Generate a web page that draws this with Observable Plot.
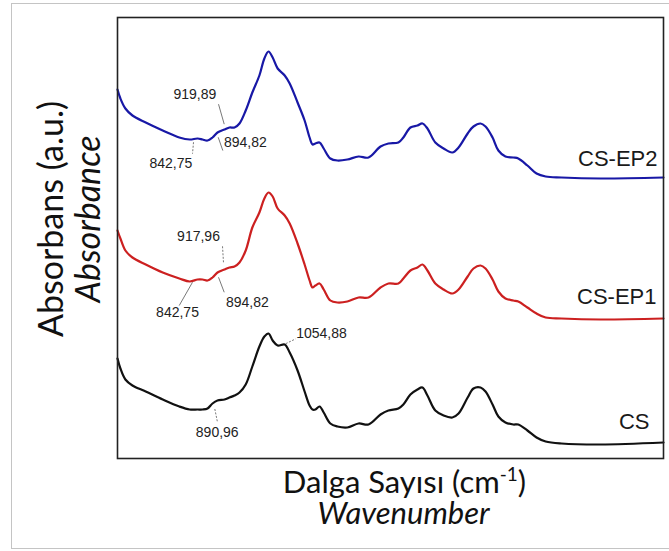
<!DOCTYPE html>
<html><head><meta charset="utf-8">
<script src="https://cdn.jsdelivr.net/npm/d3@7"></script>
<script src="https://cdn.jsdelivr.net/npm/@observablehq/plot@0.6"></script>
<style>
html,body{margin:0;padding:0;background:#fff;}
#wrap{position:relative;width:669px;height:551px;overflow:hidden;}
#wrap svg{position:absolute;left:0;top:0;}
#border{position:absolute;left:11px;top:3px;width:670px;height:546px;border:1px solid #c4c4c4;box-sizing:border-box;pointer-events:none;}
</style></head>
<body><div id="wrap"></div>
<script>
// ---- data ----
const seriesNames = ["CS-EP2", "CS-EP1", "CS"];
const seriesColors = ["#1818a6", "#cc2020", "#111111"];

const wavenumber = [654, 661, 673, 690, 722, 763, 803, 828, 847, 859, 871, 883, 895, 912, 924, 936, 948, 963, 979, 996,
  1008, 1018, 1028, 1040, 1057, 1069, 1088, 1105, 1117, 1124, 1131, 1141, 1151, 1167, 1184, 1208, 1235, 1259, 1288, 1307,
  1331, 1343, 1360, 1377, 1389, 1401, 1420, 1440, 1461, 1476, 1498, 1512, 1529, 1541, 1558, 1572, 1589, 1608, 1620, 1642,
  1664, 1686, 1724, 1818, 1970];

const absCSEP2 = [3.69, 3.60, 3.50, 3.43, 3.36, 3.28, 3.21, 3.19, 3.20, 3.19,
  3.18, 3.21, 3.26, 3.29, 3.31, 3.31, 3.35, 3.48, 3.66, 3.83,
  4.00, 4.07, 4.01, 3.90, 3.83, 3.75, 3.56, 3.38, 3.21, 3.14,
  3.15, 3.16, 3.10, 3.00, 2.98, 2.99, 3.02, 3.01, 3.12, 3.15,
  3.16, 3.21, 3.31, 3.33, 3.35, 3.30, 3.16, 3.10, 3.06, 3.11,
  3.25, 3.32, 3.35, 3.32, 3.21, 3.08, 3.02, 3.01, 3.00, 2.93,
  2.85, 2.82, 2.81, 2.80, 2.81];

const absCSEP1 = [2.28, 2.20, 2.08, 2.01, 1.94, 1.86, 1.80, 1.77, 1.79, 1.79,
  1.78, 1.81, 1.86, 1.89, 1.91, 1.92, 1.96, 2.08, 2.31, 2.46,
  2.60, 2.66, 2.62, 2.50, 2.43, 2.35, 2.15, 1.94, 1.78, 1.71,
  1.73, 1.75, 1.69, 1.58, 1.56, 1.57, 1.61, 1.61, 1.71, 1.75,
  1.75, 1.80, 1.88, 1.91, 1.94, 1.88, 1.75, 1.69, 1.65, 1.69,
  1.82, 1.90, 1.93, 1.90, 1.79, 1.67, 1.60, 1.58, 1.57, 1.51,
  1.45, 1.41, 1.40, 1.39, 1.40];

const absCS = [1.00, 0.90, 0.79, 0.73, 0.67, 0.59, 0.52, 0.49, 0.49, 0.49,
  0.50, 0.55, 0.58, 0.59, 0.61, 0.63, 0.66, 0.74, 0.92, 1.12,
  1.22, 1.25, 1.18, 1.13, 1.14, 1.06, 0.88, 0.67, 0.53, 0.49,
  0.49, 0.52, 0.46, 0.35, 0.32, 0.31, 0.35, 0.34, 0.44, 0.48,
  0.50, 0.54, 0.64, 0.69, 0.71, 0.63, 0.48, 0.43, 0.41, 0.45,
  0.61, 0.70, 0.71, 0.67, 0.54, 0.42, 0.36, 0.34, 0.34, 0.28,
  0.21, 0.17, 0.15, 0.14, 0.16];

const annotSeries = ["CS-EP2", "CS-EP2", "CS-EP2", "CS-EP1", "CS-EP1", "CS-EP1", "CS", "CS"];
const annotWavenumber = [842.75, 894.82, 919.89, 842.75, 894.82, 917.96, 890.96, 1054.88];
const annotLabel = ["842,75", "894,82", "919,89", "842,75", "894,82", "917,96", "890,96", "1054,88"];

const yTitle = "Absorbans (a.u.)";
const yTitleEn = "Absorbance";
const xTitle = "Dalga Sayısı (cm-1)";
const xTitleEn = "Wavenumber";

// ---- layout ----
const W = 669, H = 551;
const margin = {top: 17, right: 6, bottom: 93, left: 117};
const xDomain = [654, 1970];
const yDomain = [0, 4.41];

// annotation offsets (pixels) relative to the annotated point on the curve
const annotLayout = [
  {lead: [-2.3, 3.5, -3.3, 15], text: [-25, 24.5], dashed: true},
  {lead: [0.8, 4.7, 5.4, 18], text: [28, 10], dashed: false},
  {lead: [-3.6, -4, -9.3, -24], text: [-33, -33.5], dashed: false},
  {lead: [-3.3, 2.3, -16.6, 25.6], text: [-18.3, 32.6], dashed: false},
  {lead: [1.1, 4.7, 6.8, 19.7], text: [30, 29.7], dashed: false},
  {lead: [-4.5, -22.2, -3.5, -5.5], text: [-28.5, -32.2], dashed: true},
  {lead: [-1, 7.5, 1.7, 20.9], text: [1.4, 30.9], dashed: true},
  {lead: [2, -1, 11.7, -5.7], text: [37.7, -11], dashed: true}
];

const seriesValues = {"CS-EP2": absCSEP2, "CS-EP1": absCSEP1, "CS": absCS};
const spectra = seriesNames.flatMap(s => wavenumber.map((w, i) => ({series: s, wn: w, abs: seriesValues[s][i]})));

const xs = Plot.scale({x: {domain: xDomain, range: [margin.left, W - margin.right]}});
const ys = Plot.scale({y: {domain: yDomain, range: [H - margin.bottom, margin.top]}});

function valueAt(s, w) {
  const v = seriesValues[s];
  for (let i = 1; i < wavenumber.length; i++) {
    if (w <= wavenumber[i]) {
      const t = (w - wavenumber[i - 1]) / (wavenumber[i] - wavenumber[i - 1]);
      return v[i - 1] + t * (v[i] - v[i - 1]);
    }
  }
  return v[v.length - 1];
}

const annotations = annotLabel.map((label, i) => {
  const s = annotSeries[i], w = annotWavenumber[i], a = valueAt(s, w);
  const px = xs.apply(w), py = ys.apply(a), L = annotLayout[i];
  return {
    label, dashed: L.dashed,
    x1: xs.invert(px + L.lead[0]), y1: ys.invert(py + L.lead[1]),
    x2: xs.invert(px + L.lead[2]), y2: ys.invert(py + L.lead[3]),
    tx: xs.invert(px + L.text[0]), ty: ys.invert(py + L.text[1])
  };
});

const lastPoint = s => [{wn: wavenumber[wavenumber.length - 1], abs: seriesValues[s][seriesValues[s].length - 1], label: s}];
const labelOffsets = {"CS-EP2": [-6, -18.5], "CS-EP1": [-7, -22], "CS": [-14, -21]};

const sans = "Liberation Sans, Arial, sans-serif";
const titleFont = "Lato, 'Open Sans', sans-serif";

const chart = Plot.plot({
  width: W, height: H,
  marginTop: margin.top, marginRight: margin.right, marginBottom: margin.bottom, marginLeft: margin.left,
  style: {background: "transparent", overflow: "visible"},
  x: {domain: xDomain, axis: null},
  y: {domain: yDomain, axis: null},
  color: {domain: seriesNames, range: seriesColors},
  marks: [
    Plot.line(spectra, {x: "wn", y: "abs", z: "series", stroke: "series", strokeWidth: 2.2, curve: "catmull-rom"}),
    Plot.link(annotations.filter(d => d.dashed), {x1: "x1", y1: "y1", x2: "x2", y2: "y2", stroke: "#555", strokeWidth: 0.8, strokeDasharray: "2,1.5"}),
    Plot.link(annotations.filter(d => !d.dashed), {x1: "x1", y1: "y1", x2: "x2", y2: "y2", stroke: "#555", strokeWidth: 0.8}),
    Plot.text(annotations, {x: "tx", y: "ty", text: "label", fontSize: 14, fontFamily: sans, fill: "#222"}),
    ...seriesNames.map(s => Plot.text(lastPoint(s), {x: "wn", y: "abs", text: "label", textAnchor: "end",
      dx: labelOffsets[s][0], dy: labelOffsets[s][1], fontSize: 22, fontFamily: sans, fill: "#1a1a1a"})),
    Plot.frame({stroke: "#222", strokeWidth: 1.6}),
    Plot.text([yTitle], {frameAnchor: "left", textAnchor: "middle", rotate: -90, dx: -55, dy: -19, lineAnchor: "bottom", fontSize: 34, fontFamily: titleFont, fill: "#111"}),
    Plot.text([yTitleEn], {frameAnchor: "left", textAnchor: "middle", rotate: -90, dx: -18, dy: -19, lineAnchor: "bottom", fontSize: 34, fontFamily: titleFont, fontStyle: "italic", fill: "#111"}),
    Plot.text([xTitle], {frameAnchor: "bottom", dx: 14, dy: 34, lineAnchor: "bottom", fontSize: 31, fontFamily: titleFont, fill: "#111"}),
    Plot.text([xTitleEn], {frameAnchor: "bottom", dx: 13, dy: 65, lineAnchor: "bottom", fontSize: 31, fontFamily: titleFont, fontStyle: "italic", fill: "#111"})
  ]
});

// superscript for cm-1
d3.select(chart).selectAll("text").each(function () {
  if (this.textContent === xTitle) {
    const t = d3.select(this);
    t.text(null);
    t.append("tspan").text("Dalga Sayısı (cm");
    t.append("tspan").attr("dy", "-12").attr("font-size", "19").text("-1");
    t.append("tspan").attr("dy", "12").text(")");
  }
});

const wrap = document.getElementById("wrap");
wrap.appendChild(chart);
const border = document.createElement("div");
border.id = "border";
wrap.appendChild(border);
</script>
</body></html>
